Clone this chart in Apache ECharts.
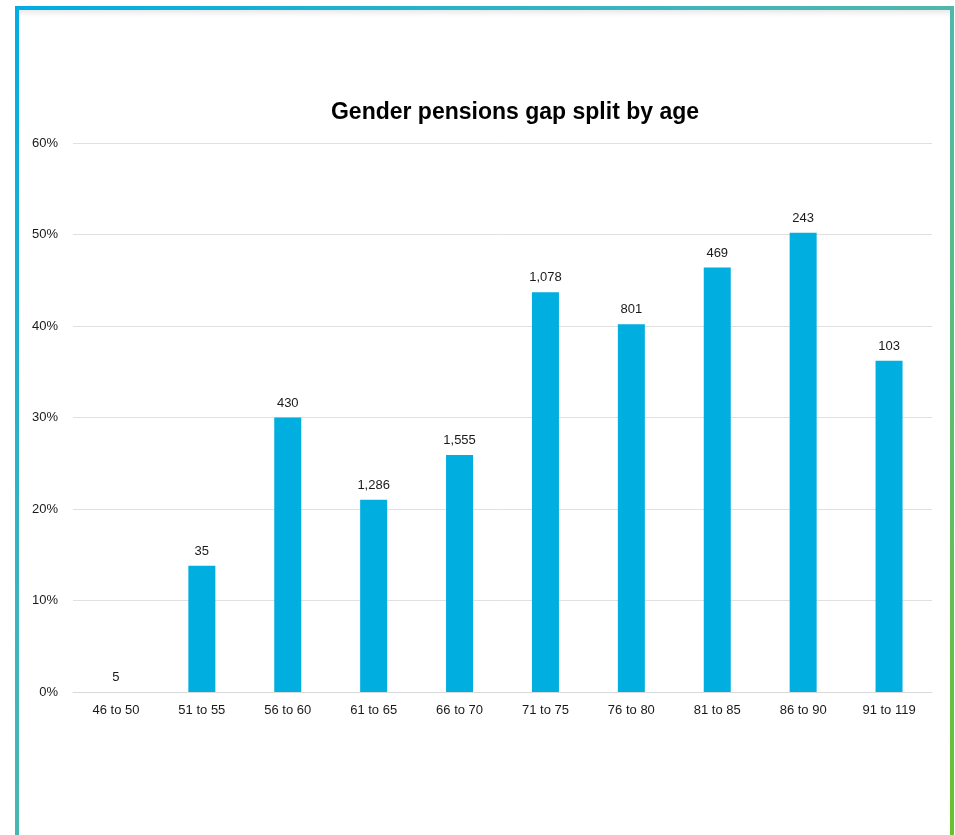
<!DOCTYPE html>
<html>
<head>
<meta charset="utf-8">
<script src="https://cdn.jsdelivr.net/npm/echarts@6/dist/echarts.min.js"></script>
<style>
html,body{margin:0;padding:0;background:#fff;width:955px;height:835px;overflow:hidden;}
#frame{position:absolute;left:15px;top:6px;width:931px;height:827px;border:4px solid transparent;border-image:linear-gradient(135deg,#00ade2 0%,#3cb4be 35%,#52b8a8 55%,#6cc02c 100%) 1;box-shadow:inset 0 6px 6px -4px rgba(0,0,0,0.12);pointer-events:none;}
#chart{position:absolute;left:0;top:0;width:955px;height:835px;}
</style>
</head>
<body>
<div id="chart"></div>
<div id="frame"></div>
<script>
const categories = ['46 to 50','51 to 55','56 to 60','61 to 65','66 to 70','71 to 75','76 to 80','81 to 85','86 to 90','91 to 119'];
const gapPercent = [0, 13.8, 30, 21.0, 25.9, 43.7, 40.2, 46.4, 50.2, 36.2];
const countLabels = ['5','35','430','1,286','1,555','1,078','801','469','243','103'];
const yTicks = [0, 10, 20, 30, 40, 50, 60];
const chartTitle = 'Gender pensions gap split by age';

const font = 'Liberation Sans, Arial, sans-serif';
const chart = echarts.init(document.getElementById('chart'), null, {renderer:'canvas'});
chart.setOption({
  animation:false,
  graphic:[{
    type:'text', x:515, y:113, silent:true,
    style:{text:chartTitle, textAlign:'center', textVerticalAlign:'middle',
      font:'bold 23px ' + font, fill:'#000'}
  }],
  grid:{left:73, right:23, top:143, bottom:143, containLabel:false},
  xAxis:{
    type:'category', data:categories,
    axisLine:{show:true,lineStyle:{color:'#d9d9d9',width:1}},
    axisTick:{show:false},
    axisLabel:{color:'#1a1a1a',fontFamily:font,fontSize:13,margin:12}
  },
  yAxis:{
    type:'value', min:yTicks[0], max:yTicks[yTicks.length-1], interval:10,
    axisLine:{show:false}, axisTick:{show:false},
    splitLine:{lineStyle:{color:'#e0e0e0',width:1}},
    axisLabel:{formatter:v=>v+'%',color:'#1a1a1a',fontFamily:font,fontSize:13,margin:15}
  },
  series:[{
    type:'bar', data:gapPercent, barWidth:27,
    itemStyle:{color:'#00aee0'},
    label:{show:true,position:'top',distance:8,
      formatter:p=>countLabels[p.dataIndex],
      color:'#1a1a1a',fontFamily:font,fontSize:13}
  }]
});
</script>
</body>
</html>
